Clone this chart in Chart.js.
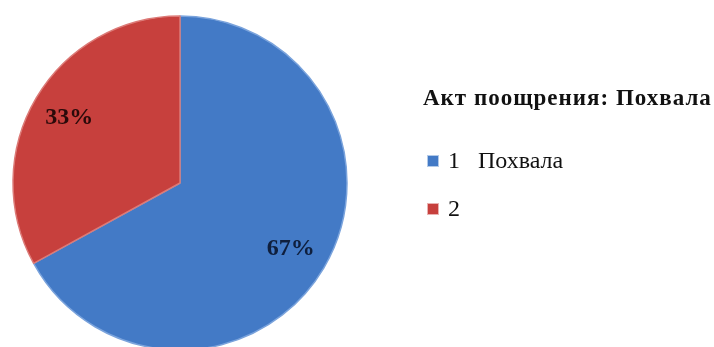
<!doctype html>
<html lang="ru">
<head>
<meta charset="utf-8">
<title>Акт поощрения: Похвала</title>
<script src="https://cdn.jsdelivr.net/npm/chart.js@4.4.1/dist/chart.umd.min.js"></script>
<style>
  html, body { margin: 0; padding: 0; background: #ffffff; }
  #wrap { width: 714px; height: 347px; }
</style>
</head>
<body>
<div id="wrap"><canvas id="pie" width="714" height="347"></canvas></div>
<script>
  // data
  var title = "Акт поощрения: Похвала";
  var labels = ["1  Похвала", "2"];
  var values = [67, 33];
  var colors = ["#437ac6", "#c7403d"];
  var edges = ["#7aa3dc", "#dc7a77"];

  var serif = "'Liberation Serif', 'DejaVu Serif', serif";

  // percent labels inside slices
  var sliceLabels = {
    id: "sliceLabels",
    afterDatasetsDraw: function (chart) {
      var ctx = chart.ctx;
      var meta = chart.getDatasetMeta(0);
      var total = values.reduce(function (a, b) { return a + b; }, 0);
      ctx.save();
      ctx.font = "bold 24px " + serif;
      ctx.textAlign = "center";
      ctx.textBaseline = "middle";
      meta.data.forEach(function (arc, i) {
        var mid = (arc.startAngle + arc.endAngle) / 2;
        var r = arc.outerRadius * 0.77;
        ctx.fillStyle = i == 0 ? "#0f1f3d" : "#2a0a0a";
        ctx.fillText(Math.round(values[i] / total * 100) + "%",
                     arc.x + Math.cos(mid) * r, arc.y + Math.sin(mid) * r);
      });
      ctx.restore();
    }
  };

  // legend on the right, as in the picture
  var sideLegend = {
    id: "sideLegend",
    afterDraw: function (chart) {
      var ctx = chart.ctx;
      ctx.save();
      ctx.textBaseline = "middle";
      ctx.fillStyle = "#111111";
      ctx.font = "bold 23px " + serif;
      ctx.letterSpacing = "1px";
      ctx.fillText(title, 423, 99);
      ctx.letterSpacing = "0px";
      ctx.wordSpacing = "3px";
      ctx.font = "24px " + serif;
      labels.forEach(function (lab, i) {
        var y = 161 + i * 48;
        ctx.fillStyle = colors[i];
        ctx.fillRect(427, y - 6, 12, 12);
        ctx.strokeStyle = "rgba(255,255,255,0.6)";
        ctx.strokeRect(427.5, y - 5.5, 11, 11);
        ctx.fillStyle = "#111111";
        ctx.fillText(lab, 448, y + 1);
      });
      ctx.restore();
    }
  };

  new Chart("pie", {
    type: "pie",
    data: {
      labels: labels,
      datasets: [{
        data: values,
        backgroundColor: colors,
        borderColor: edges,
        borderWidth: 1.5,
        radius: 167
      }]
    },
    options: {
      responsive: false,
      animation: false,
      layout: { padding: { left: 0, right: 354, top: 19, bottom: 0 } },
      plugins: {
        legend: { display: false },
        tooltip: { enabled: false }
      }
    },
    plugins: [sliceLabels, sideLegend]
  });
</script>
</body>
</html>
